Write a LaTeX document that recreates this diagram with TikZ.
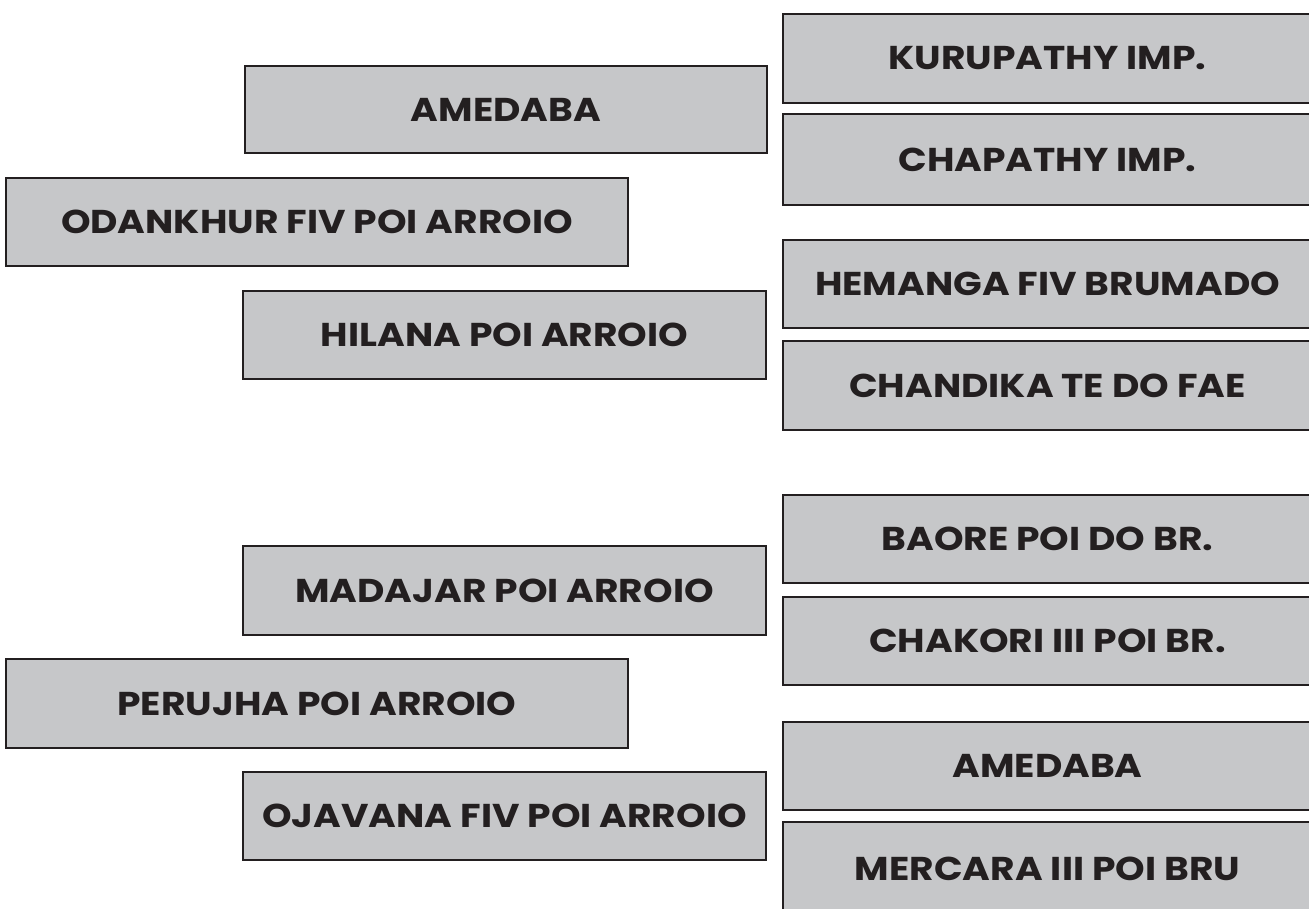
\documentclass[tikz,border=0pt]{standalone}
\usepackage{fontspec}
\usepackage{graphicx}
\setmainfont{Poppins}
\definecolor{boxgray}{HTML}{C6C7C9}
\definecolor{boxline}{HTML}{231F20}
\tikzset{
  box/.style={draw=boxline, line width=2pt, fill=boxgray},
  boxtext/.style={font=\fontsize{33}{38}\selectfont\bfseries, text=boxline, inner sep=0pt},
}
\newcommand{\mybox}[6]{% name, x1, y1, x2, y2, text
  \draw[box] (#2,#3) rectangle (#4,#5);
  \node[boxtext] (#1) at ({(#2+#4)/2},{(#3+#5)/2}) {\scalebox{1.14}[1]{#6}};
}
\begin{document}
\begin{tikzpicture}[x=1pt,y=-1pt]
\path[use as bounding box, clip] (0,0) rectangle (1309,909);
\mybox{a}{245}{66}{767}{153}{AMEDABA}
\mybox{b}{783}{14}{1312}{103}{KURUPATHY IMP.}
\mybox{c}{783}{114}{1312}{205}{CHAPATHY IMP.}
\mybox{d}{6}{178}{628}{266}{ODANKHUR FIV POI ARROIO}
\mybox{e}{783}{240}{1312}{328}{HEMANGA FIV BRUMADO}
\mybox{f}{243}{291}{766}{379}{HILANA POI ARROIO}
\mybox{g}{783}{341}{1312}{430}{CHANDIKA TE DO FAE}
\mybox{h}{783}{495}{1312}{583}{BAORE POI DO BR.}
\mybox{i}{243}{546}{766}{635}{MADAJAR POI ARROIO}
\mybox{j}{783}{597}{1312}{685}{CHAKORI III POI BR.}
\mybox{k}{6}{659}{628}{748}{PERUJHA POI ARROIO}
\mybox{l}{783}{722}{1312}{810}{AMEDABA}
\mybox{m}{243}{772}{766}{860}{OJAVANA FIV POI ARROIO}
\mybox{n}{783}{822}{1312}{915}{MERCARA III POI BRU}
\end{tikzpicture}
\end{document}
